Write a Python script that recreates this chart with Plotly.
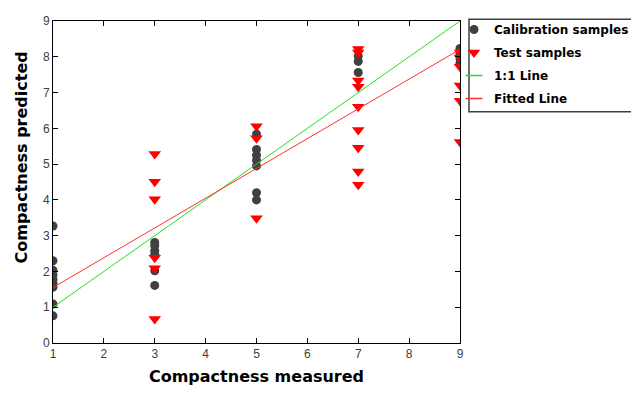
import plotly.graph_objects as go

# Calibration samples
cal_x = [1]*9 + [3]*6 + [5]*7 + [7]*3 + [9]*4
cal_y = [3.27, 2.30, 2.03, 1.90, 1.78, 1.67, 1.56, 1.09, 0.76,
         2.81, 2.72, 2.58, 2.48, 2.02, 1.61,
         5.84, 5.41, 5.25, 5.11, 4.95, 4.20, 4.00,
         8.02, 7.87, 7.56,
         8.23, 8.08, 7.95, 7.82]

# Test samples
test_x = [3]*6 + [5]*3 + [7]*9 + [9]*6
test_y = [5.28, 4.51, 4.02, 2.38, 2.09, 0.67,
          6.06, 5.72, 3.49,
          8.22, 8.12, 7.34, 7.16, 6.60, 5.95, 5.46, 4.79, 4.42,
          8.12, 7.98, 7.72, 7.20, 6.77, 5.62]

# Lines
line_x = [1, 9]
fit_intercept = 0.72
fit_slope = 0.832

fit_y = [fit_intercept + fit_slope * v for v in line_x]

x_ticks = [1, 2, 3, 4, 5, 6, 7, 8, 9]
y_ticks = [0, 1, 2, 3, 4, 5, 6, 7, 8, 9]

GREEN = "#22e022"
RED = "#ff3030"

fig = go.Figure()
fig.add_trace(go.Scatter(x=cal_x, y=cal_y, mode="markers", name="<b>Calibration samples</b>",
                         legendgroup="a",
                         marker=dict(symbol="circle", size=9, color="#404040")))
fig.add_trace(go.Scatter(x=test_x, y=test_y, mode="markers", name="<b>Test samples</b>",
                         legendgroup="b",
                         marker=dict(symbol="triangle-down", size=11, color="#ff0000")))
fig.add_trace(go.Scatter(x=line_x, y=line_x, mode="lines", name="1:1 Line",
                         legendgroup="c", showlegend=False,
                         line=dict(color=GREEN, width=1)))
fig.add_trace(go.Scatter(x=line_x, y=fit_y, mode="lines", name="Fitted Line",
                         legendgroup="d", showlegend=False,
                         line=dict(color=RED, width=1)))
# legend entries for the lines (short line symbols)
fig.add_trace(go.Scatter(x=[None], y=[None], mode="markers", name="<b>1:1 Line</b>",
                         legendgroup="c",
                         marker=dict(symbol="line-ew", size=12, color=GREEN,
                                     line=dict(color=GREEN, width=1.5))))
fig.add_trace(go.Scatter(x=[None], y=[None], mode="markers", name="<b>Fitted Line</b>",
                         legendgroup="d",
                         marker=dict(symbol="line-ew", size=12, color=RED,
                                     line=dict(color=RED, width=1.5))))

axis_common = dict(showgrid=False, zeroline=False, showline=True, linecolor="#000000",
                   linewidth=1, mirror="ticks", ticks="inside", ticklen=5,
                   tickcolor="#000000", automargin=False,
                   tickfont=dict(family="Liberation Sans", size=12, color="#404040"))

fig.update_xaxes(range=[1, 9], tickvals=x_ticks, **axis_common,
                 title=dict(text="<b>Compactness measured</b>", standoff=10,
                            font=dict(family="DejaVu Sans", size=16, color="#000000")))
fig.update_yaxes(range=[0, 9], tickvals=y_ticks, **axis_common)

fig.add_annotation(text="<b>Compactness predicted</b>", xref="paper", yref="paper",
                   x=-0.0762, y=0.576, textangle=-90, showarrow=False,
                   xanchor="center", yanchor="middle",
                   font=dict(family="DejaVu Sans", size=16, color="#000000"))

# legend frame
fig.add_shape(type="rect", xref="paper", yref="paper",
              x0=1.0221, x1=1.4324, y0=0.7183, y1=1.0053,
              line=dict(color="#404040", width=1.5), fillcolor="rgba(0,0,0,0)", layer="above")

fig.update_layout(
    width=631, height=394,
    margin=dict(l=45, r=179, t=13, b=59, autoexpand=False),
    plot_bgcolor="white", paper_bgcolor="white",
    legend=dict(xref="container", yref="container", x=446/631, y=1 - 7/394,
                xanchor="left", yanchor="top",
                borderwidth=0, bgcolor="rgba(0,0,0,0)",
                font=dict(family="DejaVu Sans", size=12, color="#000000"),
                itemwidth=30, tracegroupgap=4),
    showlegend=True,
)

fig.write_html("out.html")
